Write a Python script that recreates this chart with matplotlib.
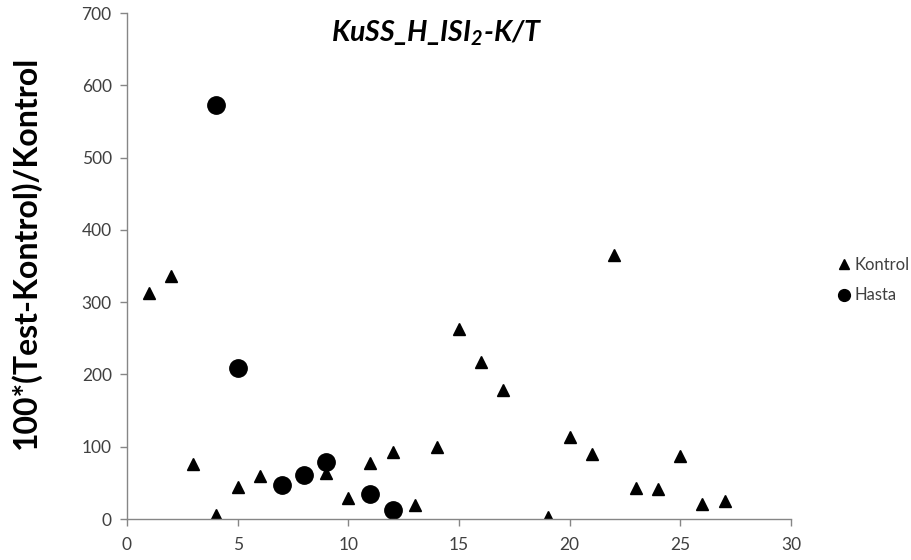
import matplotlib
matplotlib.use("Agg")
import matplotlib.pyplot as plt

# Kontrol group: subject index vs. 100*(Test-Kontrol)/Kontrol
kontrol_x = [1, 2, 3, 4, 5, 6, 9, 10, 11, 12, 13, 14, 15, 16, 17,
             19, 20, 21, 22, 23, 24, 25, 26, 27]
kontrol_y = [312, 336, 76, 5, 44, 59, 64, 29, 77, 92, 20, 100, 263, 217, 179,
             3, 114, 90, 365, 43, 41, 87, 21, 25]

# Hasta group
hasta_x = [4, 5, 7, 8, 9, 11, 12]
hasta_y = [573, 209, 47, 61, 79, 35, 13]

x_ticks = [0, 5, 10, 15, 20, 25, 30]
y_ticks = [0, 100, 200, 300, 400, 500, 600, 700]

plt.rcParams["font.family"] = ["Lato", "DejaVu Sans"]
plt.rcParams["mathtext.default"] = "regular"

axis_grey = "#868686"
label_grey = "#404040"

fig = plt.figure(figsize=(9.12, 5.6), dpi=100)
ax = fig.add_axes([127 / 912, 41 / 560, 664 / 912, 506 / 560])

ax.plot(kontrol_x, kontrol_y, linestyle="none", marker="^", markersize=9,
        color="black", label="Kontrol")
ax.plot(hasta_x, hasta_y, linestyle="none", marker="o", markersize=12.5,
        color="black", label="Hasta")

ax.set_xlim(0, 30)
ax.set_ylim(0, 700)
ax.set_xticks(x_ticks)
ax.set_yticks(y_ticks)

for side in ("top", "right"):
    ax.spines[side].set_visible(False)
for side in ("left", "bottom"):
    ax.spines[side].set_color(axis_grey)
    ax.spines[side].set_linewidth(1.0)
ax.tick_params(axis="both", direction="out", length=5, width=1.0,
               color=axis_grey, labelcolor=label_grey, labelsize=12.5)
ax.tick_params(axis="x", pad=8)
ax.tick_params(axis="y", pad=6)

fig.text(26 / 912, 1 - 252 / 560, "100*(Test-Kontrol)/Kontrol",
         rotation=90, ha="center", va="center",
         fontsize=23, fontweight="bold", color="black")

fig.text(437 / 912, 1 - 33 / 560, r"KuSS_H_ISI$_2$-K/T",
         ha="center", va="center", fontsize=20.5,
         fontweight="bold", fontstyle="italic", color="black")

leg = fig.legend(loc="center left", bbox_to_anchor=(824 / 912, 1 - 280 / 560),
                 frameon=False, fontsize=12,
                 handlelength=0.6, handletextpad=0.35, labelspacing=0.9)
for handle, size in zip(leg.legend_handles, (7, 8.5)):
    handle.set_markersize(size)
for t in leg.get_texts():
    t.set_color(label_grey)

fig.savefig("out.png", dpi=100)
